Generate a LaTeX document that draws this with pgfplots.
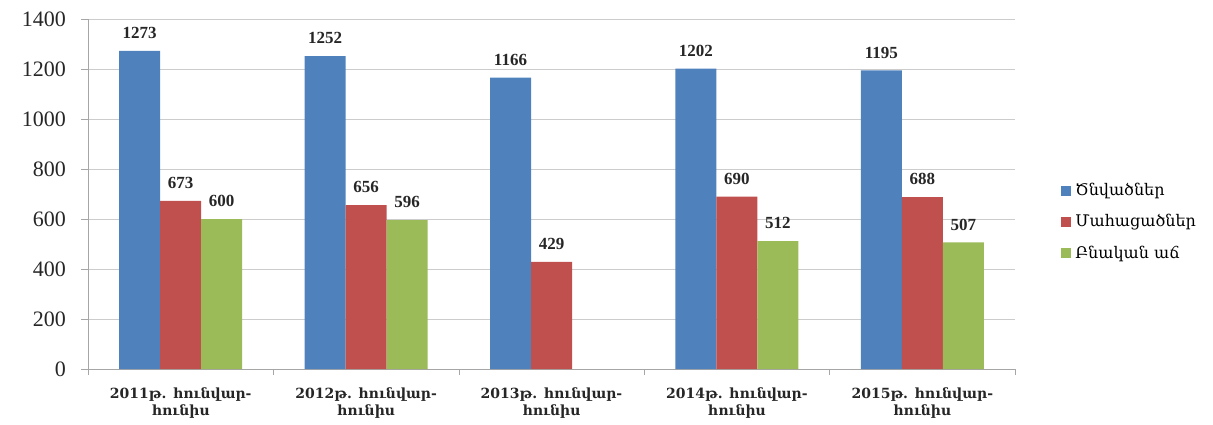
\documentclass[border=0pt]{standalone}
\usepackage{fontspec}
\setmainfont{Liberation Serif}
\newfontfamily\arm{DejaVu Serif}
\usepackage{pgfplots}
\pgfplotsset{compat=1.18}
\definecolor{cB}{HTML}{4F81BD}
\definecolor{cR}{HTML}{C0504D}
\definecolor{cG}{HTML}{9BBB59}
\pgfplotsset{sq/.style={legend image code/.code={\fill[##1] (0pt,-2.5pt) rectangle (5pt,2.5pt);}}}
\begin{document}
\begin{tikzpicture}
\useasboundingbox (-44pt,-27.5pt) rectangle (562.5pt,184.5pt);
\begin{axis}[
  at={(0,0)}, anchor=south west,
  scale only axis, width=463.5pt, height=175pt,
  ymin=0, ymax=1400, ytick={0,200,...,1400},
  xmin=-0.5, xmax=4.5, xtick={0,...,4},
  xticklabels={{2011թ. հունվար-\\հունիս},{2012թ. հունվար-\\հունիս},{2013թ. հունվար-\\հունիս},{2014թ. հունվար-\\հունիս},{2015թ. հունվար-\\հունիս}},
  minor xtick={-0.5,0.5,...,4.5},
  ybar=0pt, bar width=20.5pt,
  axis x line*=bottom, axis y line*=left,
  axis line style={gray!70},
  ymajorgrids, grid style={gray!40},
  tick align=outside, major tick length=3.5pt, minor tick length=3pt,
  xtick style={draw=none}, minor x tick style={draw, gray!70},
  ytick style={gray!70},
  /pgf/number format/assume math mode=true,
  /pgf/number format/1000 sep={},
  yticklabel style={font=\fontsize{11}{13}\selectfont, text=black!85, xshift=-4pt},
  xticklabel style={font=\arm\bfseries\fontsize{7}{8.5}\selectfont, align=center, text=black!85, yshift=-2.5pt},
  nodes near coords,
  nodes near coords style={font=\bfseries\fontsize{8.5}{10}\selectfont, text=black!85, yshift=2.5pt},
  legend style={at={(1.043,0.42)}, anchor=west, draw=none, fill=none,
    font=\arm\fontsize{8}{10}\selectfont, row sep=4pt},
  legend cell align=left,
]
\addplot[fill=cB, draw=none, sq] coordinates {(0,1273) (1,1252) (2,1166) (3,1202) (4,1195)};
\addplot[fill=cR, draw=none, sq] coordinates {(0,673) (1,656) (2,429) (3,690) (4,688)};
\addplot[fill=cG, draw=none, sq] coordinates {(0,600) (1,596) (3,512) (4,507)};
\legend{Ծնվածներ, Մահացածներ, Բնական աճ}
\end{axis}
\end{tikzpicture}
\end{document}
